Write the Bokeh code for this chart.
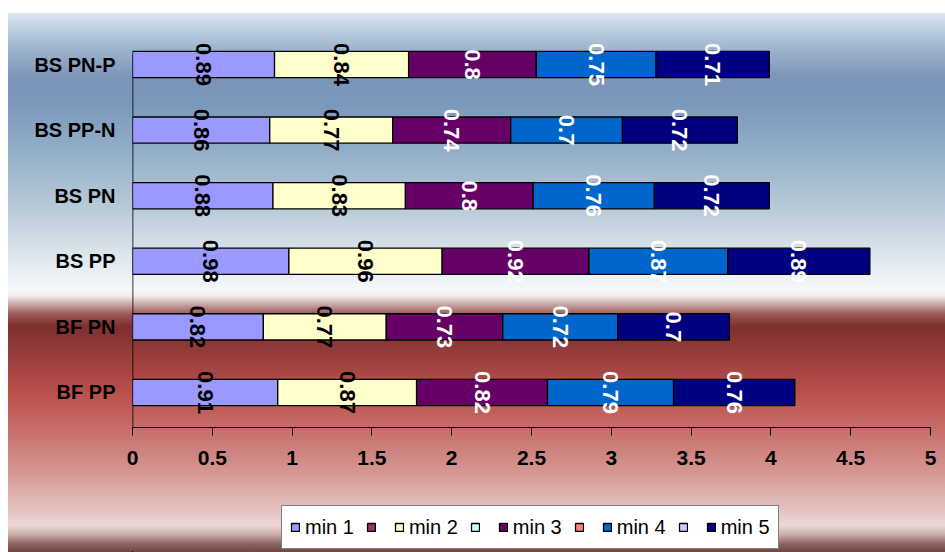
import math
from bokeh.plotting import figure
from bokeh.layouts import column
from bokeh.models import (Range1d, FixedTicker, ColumnDataSource, LabelSet,
                          Legend, LegendItem, NumeralTickFormatter)
from bokeh.core.properties import value
from bokeh.embed import file_html
from bokeh.resources import INLINE

# ---- data ----
categories = ["BF PP", "BF PN", "BS PP", "BS PN", "BS PP-N", "BS PN-P"]
min1 = [0.91, 0.82, 0.98, 0.88, 0.86, 0.89]
min2 = [0.87, 0.77, 0.96, 0.83, 0.77, 0.84]
min3 = [0.82, 0.73, 0.92, 0.80, 0.74, 0.80]
min4 = [0.79, 0.72, 0.87, 0.76, 0.70, 0.75]
min5 = [0.76, 0.70, 0.89, 0.72, 0.72, 0.71]
series_names = ["min 1", "min 2", "min 3", "min 4", "min 5"]
series_values = [min1, min2, min3, min4, min5]
series_colors = ["#9999FF", "#FFFFCC", "#660066", "#0066CC", "#000080"]
label_colors = ["black", "black", "white", "white", "white"]
blank_colors = ["#993366", "#CCFFFF", "#FF8080", "#CCCCFF"]
x_ticks = [0, 0.5, 1, 1.5, 2, 2.5, 3, 3.5, 4, 4.5, 5]

ys = list(range(len(categories)))
Y_LO, Y_HI = -0.534, 5.427     # frame extent (room for rotated labels)
Y_AXIS_TOP = 5.152             # where the value-axis line stops

p = figure(width=945, height=495, x_range=Range1d(0, 5),
           y_range=Range1d(Y_LO, Y_HI),
           output_backend="svg", toolbar_location=None,
           min_border_left=132, min_border_right=15,
           min_border_top=36, min_border_bottom=68)
p.background_fill_color = None
p.border_fill_color = None
p.outline_line_color = None
p.xgrid.visible = False
p.ygrid.visible = False

# category axis line (stops below the top, like the original)
p.segment(x0=[0], y0=[Y_LO], x1=[0], y1=[Y_AXIS_TOP], line_color="black", line_width=1.6)

# ---- stacked bars ----
sources = []
lefts = [0.0] * len(categories)
for name, vals, col, lcol in zip(series_names, series_values, series_colors, label_colors):
    rights = [l + v for l, v in zip(lefts, vals)]
    centers = [(l + r) / 2 for l, r in zip(lefts, rights)]
    src = ColumnDataSource(dict(y=ys, left=lefts, right=rights, xc=centers,
                                txt=[f"{v:g}" for v in vals]))
    sources.append(src)
    p.hbar(y="y", left="left", right="right", height=0.4, source=src,
           fill_color=col, line_color="black", line_width=1.3)
    labels = LabelSet(x="xc", y="y", text="txt", source=src, angle=-math.pi / 2,
                      text_align="center", text_baseline="middle",
                      text_font=value("Liberation Sans"), text_font_style="bold",
                      text_font_size="22px", text_color=lcol)
    p.add_layout(labels)
    lefts = rights

# ---- axes ----
xa = p.xaxis[0]
xa.ticker = FixedTicker(ticks=x_ticks)
xa.formatter = NumeralTickFormatter(format="0.[0]")
xa.major_tick_out = 8
xa.major_tick_in = 0
xa.minor_tick_out = 0
xa.minor_tick_in = 0
xa.major_label_standoff = 15
xa.axis_line_color = "black"
xa.major_tick_line_color = "black"
xa.major_label_text_font = "Liberation Sans"
xa.major_label_text_font_style = "bold"
xa.major_label_text_font_size = "21px"
xa.major_label_text_color = "black"

ya = p.yaxis[0]
ya.ticker = FixedTicker(ticks=ys)
ya.major_label_overrides = {i: c for i, c in zip(ys, categories)}
ya.major_tick_out = 0
ya.major_tick_in = 0
ya.minor_tick_out = 0
ya.minor_tick_in = 0
ya.major_label_standoff = 17
ya.axis_line_color = None
ya.major_label_text_font = "Liberation Sans"
ya.major_label_text_font_style = "bold"
ya.major_label_text_font_size = "20px"
ya.major_label_text_color = "black"

# ---- legend strip (own figure; its ranges keep the proxy bars out of view) ----
p2 = figure(width=945, height=57, output_backend="svg", toolbar_location=None,
            x_axis_type=None, y_axis_type=None,
            min_border_left=0, min_border_right=0, min_border_top=0, min_border_bottom=0,
            x_range=Range1d(100, 101), y_range=Range1d(100, 101))
p2.background_fill_color = None
p2.border_fill_color = None
p2.outline_line_color = None
p2.xgrid.visible = False
p2.ygrid.visible = False

items = []
for i, (name, col, src) in enumerate(zip(series_names, series_colors, sources)):
    r = p2.hbar(y="y", left="left", right="right", height=0.4, source=src,
                fill_color=col, line_color="black", line_width=1.3)
    items.append(LegendItem(label=name, renderers=[r]))
    if i < len(blank_colors):
        rb = p2.hbar(y="y", left="left", right="left", height=0.4, source=src,
                     fill_color=blank_colors[i], line_color="black", line_width=1.3)
        items.append(LegendItem(label=" ", renderers=[rb]))

legend = Legend(items=items, orientation="horizontal", location=(149, 3))
legend.border_line_color = "black"
legend.border_line_width = 1
legend.background_fill_color = "white"
legend.background_fill_alpha = 1
legend.glyph_width = 10
legend.glyph_height = 10
legend.label_standoff = 5
legend.label_width = 1
legend.spacing = 12
legend.padding = 8
legend.margin = 0
legend.label_height = 26
legend.label_text_font = "Liberation Sans"
legend.label_text_font_size = "20px"
legend.label_text_color = "black"
p2.add_layout(legend)

gradient = ("linear-gradient(to bottom, "
            "#dce9f2 0px, #c9d9e6 10px, #9fb5cd 35px, #7c94b9 65px, #7b98bc 90px, "
            "#93afc8 140px, #bccdda 200px, #e2eaf1 250px, #f6f8fb 277px, "
            "#f3eded 283px, #c9aaa8 291px, #9a5a58 301px, #7f2f2e 313px, "
            "#8c3837 330px, #bb504c 380px, #c8716d 420px, #d69794 460px, "
            "#e6c6c3 500px, #ecd9d6 512px, #cdb0ac 521px, #8c6360 531px, #6e4642 539px)")

layout = column(p, p2, spacing=0)
layout.styles = {
    "background-color": "white",
    "background-image": gradient,
    "background-size": "937px 539px",
    "background-position": "8px 13px",
    "background-repeat": "no-repeat",
}

open("out.html", "w").write(file_html(layout, INLINE))
